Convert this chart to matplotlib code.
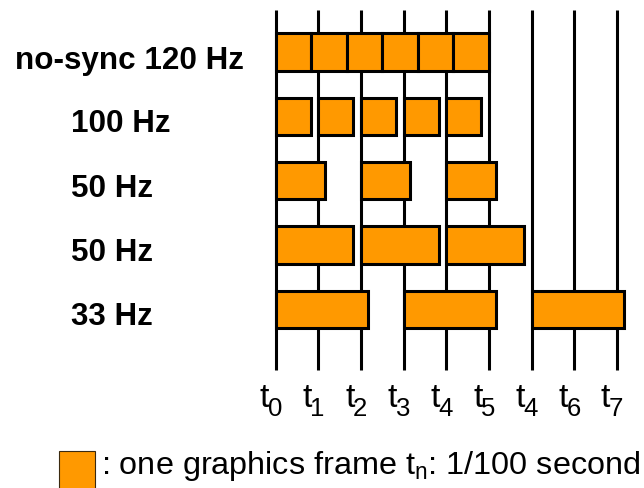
import matplotlib
matplotlib.use('Agg')
import matplotlib.pyplot as plt
from matplotlib.patches import Rectangle

plt.rcParams['font.family'] = ['Liberation Sans', 'DejaVu Sans']
plt.rcParams['mathtext.default'] = 'regular'

# ---------------- data ----------------
row_labels = ['no-sync 120 Hz', '100 Hz', '50 Hz', '50 Hz', '33 Hz']
frame_starts = [
    [0, 0.833, 1.667, 2.5, 3.333, 4.167],
    [0, 1, 2, 3, 4],
    [0, 2, 4],
    [0, 2, 4],
    [0, 3, 6],
]
frame_durations = [0.833, 0.82, 1.155, 1.82, 2.17]
tick_times = [0, 1, 2, 3, 4, 5, 6, 7, 8]
tick_subscripts = ['0', '1', '2', '3', '4', '5', '4', '6', '7']
legend_label = ': one graphics frame $t_n$: 1/100 second'

# ---------------- layout ----------------
W, H = 644, 489
X0, XU = 275.7, 42.66        # pixel of t0, pixels per time unit
Y0, YU = 53.0, 64.3          # pixel of row 0 centre, pixels per row
ORANGE = '#FF9900'

def px2x(px):
    return (px - X0) / XU

def py2y(py):
    return (py - Y0) / YU

fig = plt.figure(figsize=(W / 100, H / 100), dpi=100)
ax = fig.add_axes([0, 0, 1, 1])
ax.set_xlim(px2x(0), px2x(W))
ax.set_ylim(py2y(H), py2y(0))
ax.axis('off')

# vertical time lines
ax.vlines(tick_times, py2y(11), py2y(371), colors='black', linewidth=2.2,
          zorder=1, capstyle='butt')

# frames
for r, (starts, dur) in enumerate(zip(frame_starts, frame_durations)):
    ax.barh([r] * len(starts), [dur] * len(starts), left=starts, height=0.58,
            color=ORANGE, edgecolor='black', linewidth=2.2, zorder=2)

# row labels
label_x = [15, 71, 71, 71, 71]
label_dy = [16, 15, 15, 15, 15]
for r, lab in enumerate(row_labels):
    ax.annotate(lab, xy=(px2x(label_x[r]), r), xytext=(0, -label_dy[r]),
                textcoords='offset pixels', ha='left', va='baseline',
                fontsize=22.6, fontweight='bold', color='black')

# tick labels t_n
bottom = py2y(371)
for t, sub in zip(tick_times, tick_subscripts):
    ax.annotate('t', xy=(t, bottom), xytext=(-6.5, -36), textcoords='offset pixels',
                ha='right', va='baseline', fontsize=24.5, color='black')
    ax.annotate(sub, xy=(t, bottom), xytext=(-8, -44.7), textcoords='offset pixels',
                ha='left', va='baseline', fontsize=18.5, color='black')

# legend
ax.add_patch(Rectangle((px2x(59), py2y(452)), 36 / XU, (H + 10 - 452) / YU,
                       facecolor=ORANGE, edgecolor='#3a2a10', linewidth=0.8,
                       clip_on=False, zorder=3))
ax.text(px2x(101), py2y(474), legend_label, ha='left', va='baseline',
        fontsize=23.3, color='black')

fig.savefig('out.png', dpi=100)
